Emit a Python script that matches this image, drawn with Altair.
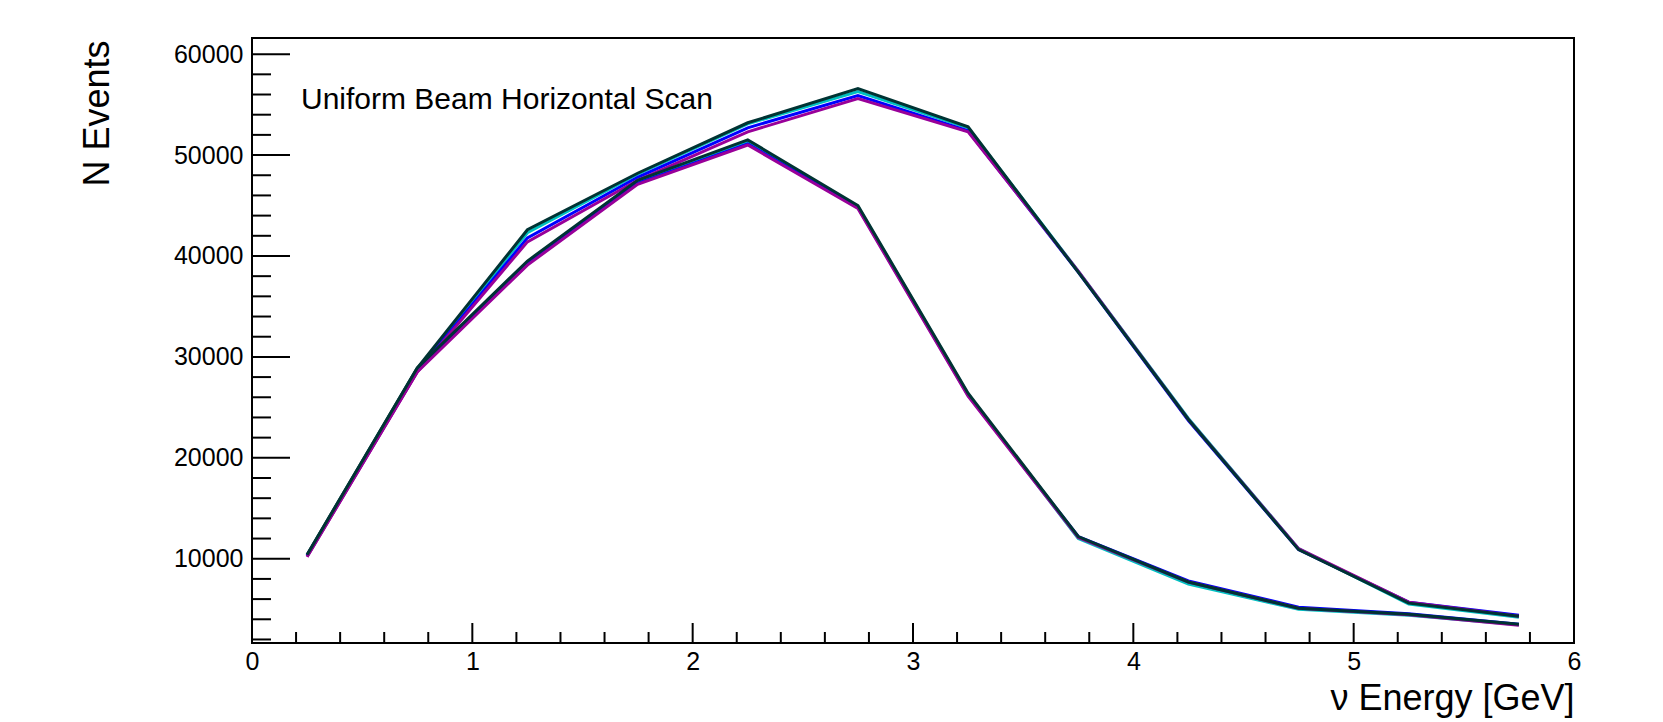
import altair as alt
import pandas as pd

# ---- data ----
energy = [0.25, 0.75, 1.25, 1.75, 2.25, 2.75, 3.25, 3.75, 4.25, 4.75, 5.25, 5.75]

a_dark    = [10400, 28900, 42600, 48200, 53200, 56600, 52800, 38400, 23800, 10900, 5600, 4300]
a_cyan    = [10300, 28800, 42300, 48100, 53100, 56300, 52700, 38500, 23900, 11000, 5500, 4200]
a_blue    = [10300, 28600, 41800, 47800, 52700, 55900, 52400, 38400, 23700, 10900, 5700, 4400]
a_magenta = [10200, 28500, 41400, 47500, 52300, 55600, 52300, 38500, 23800, 11000, 5700, 4300]

b_dark    = [10400, 28900, 39500, 47500, 51500, 45000, 26400, 12200, 7700, 5100, 4500, 3500]
b_cyan    = [10300, 28800, 39400, 47400, 51300, 44900, 26300, 12000, 7500, 5000, 4400, 3450]
b_blue    = [10300, 28600, 39200, 47200, 51100, 44800, 26200, 12200, 7800, 5200, 4550, 3500]
b_magenta = [10200, 28500, 39100, 47100, 51000, 44700, 26100, 12100, 7700, 5100, 4450, 3400]

series_names = ["A cyan", "A blue", "A magenta", "A dark",
                "B cyan", "B blue", "B magenta", "B dark"]
series_values = [a_cyan, a_blue, a_magenta, a_dark,
                 b_cyan, b_blue, b_magenta, b_dark]
series_colors = ["#00c0c0", "#0000ff", "#990099", "#003333",
                 "#00c0c0", "#0000ff", "#990099", "#003333"]

x_major = [0, 1, 2, 3, 4, 5, 6]
x_minor = [round(i * 0.2, 2) for i in range(31) if i % 5 != 0]
y_major = [10000, 20000, 30000, 40000, 50000, 60000]
y_minor = [v for v in range(2000, 61000, 2000) if v % 10000 != 0]

label_text = "Uniform Beam Horizontal Scan"
x_title = "ν Energy [GeV]"
y_title = "N Events"

# ---- tables ----
rows = []
for order, (name, vals) in enumerate(zip(series_names, series_values)):
    for e, v in zip(energy, vals):
        rows.append({"series": name, "energy": e, "events": v, "order": order})
df = pd.DataFrame(rows)

W, H = 1322, 605
FONT = "Liberation Sans"

xscale = alt.Scale(domain=[0, 6], nice=False, zero=False)
yscale = alt.Scale(domain=[1650, 61600], nice=False, zero=False)

lines = alt.Chart(df).mark_line(strokeWidth=3, clip=True).encode(
    x=alt.X("energy:Q", scale=xscale,
            axis=alt.Axis(values=x_major, format="d", title=x_title,
                          ticks=False, tickSize=0, domain=False, grid=False,
                          labelFontSize=25, labelFont=FONT, labelColor="black",
                          labelPadding=6, labelFlush=False, labelOverlap=False,
                          titleFont=FONT, titleFontSize=36, titleFontWeight="normal",
                          titleColor="black", titleAlign="right",
                          titleBaseline="alphabetic", titleX=W, titleY=66)),
    y=alt.Y("events:Q", scale=yscale,
            axis=alt.Axis(values=y_major, format="d", title=y_title,
                          ticks=False, tickSize=0, domain=False, grid=False,
                          labelFontSize=25, labelFont=FONT, labelColor="black",
                          labelPadding=9, labelOverlap=False,
                          titleFont=FONT, titleFontSize=36, titleFontWeight="normal",
                          titleColor="black", titleAngle=270, titleAlign="right",
                          titleBaseline="alphabetic", titleX=-144, titleY=2)),
    color=alt.Color("series:N", scale=alt.Scale(domain=series_names, range=series_colors),
                    legend=None),
    detail="series:N",
)

def xticks(vals, length):
    d = pd.DataFrame({"energy": vals})
    return alt.Chart(d).mark_rule(color="black", strokeWidth=2).encode(
        x=alt.X("energy:Q", scale=xscale, axis=None),
        y=alt.value(H), y2=alt.value(H - length))

def yticks(vals, length):
    d = pd.DataFrame({"events": vals})
    return alt.Chart(d).mark_rule(color="black", strokeWidth=2).encode(
        y=alt.Y("events:Q", scale=yscale, axis=None),
        x=alt.value(0), x2=alt.value(length))

label = alt.Chart(pd.DataFrame({"t": [label_text]})).mark_text(
    align="left", baseline="alphabetic", fontSize=30, font=FONT, color="black"
).encode(x=alt.value(49), y=alt.value(71), text="t:N")

chart = alt.layer(
    lines,
    xticks(x_minor, 11), xticks(x_major, 20),
    yticks(y_minor, 19), yticks(y_major, 38),
    label
).resolve_axis(x="independent", y="independent").properties(
    width=W, height=H,
    padding={"left": 244, "top": 30, "right": 81, "bottom": 78},
    autosize=alt.AutoSizeParams(type="none"),
    background="white",
).configure_view(stroke="black", strokeWidth=2)

chart.save("out.html", embed_options={"renderer": "svg", "actions": False})
